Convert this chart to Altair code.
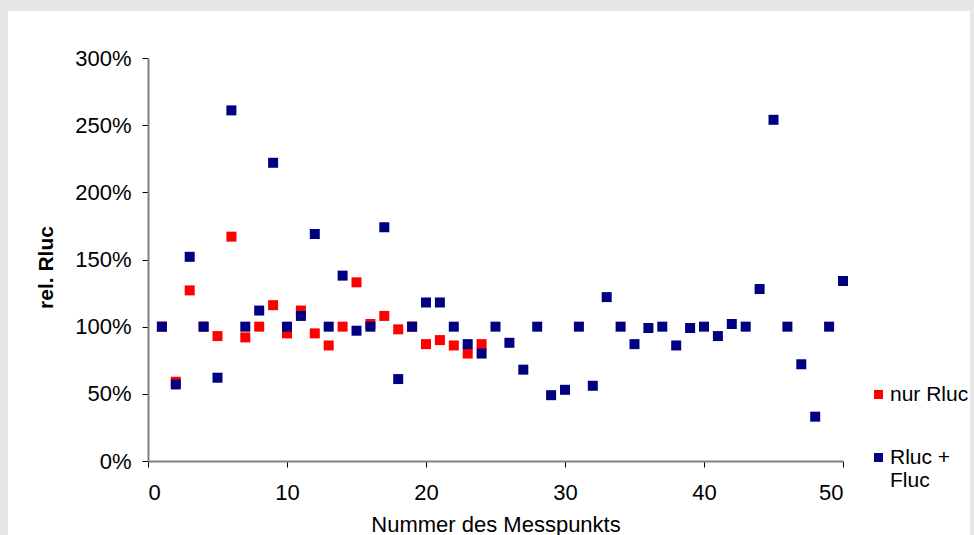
import altair as alt
import pandas as pd

# Data
x_nur = list(range(1, 25))
y_nur = [100, 59, 127, 100, 93, 167, 92, 100, 116, 95, 112, 95,
         86, 100, 133, 102, 108, 98, 100, 87, 90, 86, 80, 87]

x_both = list(range(1, 51))
y_both = [100, 57, 152, 100, 62, 261, 100, 112, 222, 100,
          108, 169, 100, 138, 97, 100, 174, 61, 100, 118,
          118, 100, 87, 80, 100, 88, 68, 100, 49, 53,
          100, 56, 122, 100, 87, 99, 100, 86, 99, 100,
          93, 102, 100, 128, 254, 100, 72, 33, 100, 134]

series_names = ["nur Rluc", "Rluc + Fluc"]
series_colors = ["#FF0000", "#000080"]
x_ticks = [0, 10, 20, 30, 40, 50]
y_ticks = [0, 0.5, 1.0, 1.5, 2.0, 2.5, 3.0]

rows = []
for xv, yv in zip(x_nur, y_nur):
    rows.append({"Messpunkt": xv, "rel": yv / 100.0, "Serie": series_names[0], "ord": 0})
for xv, yv in zip(x_both, y_both):
    rows.append({"Messpunkt": xv, "rel": yv / 100.0, "Serie": series_names[1], "ord": 1})
df = pd.DataFrame(rows)

FONT = "Liberation Sans"
W, H = 695, 403
LEFT, TOP = 148, 58

panel = alt.Chart(pd.DataFrame({"a": [0]})).mark_rect(color="white").encode(
    x=alt.value(8 - LEFT), x2=alt.value(970 - LEFT),
    y=alt.value(11 - TOP), y2=alt.value(535 - TOP + 5),
)

points = alt.Chart(df).mark_square(size=100, opacity=1, filled=True).encode(
    x=alt.X("Messpunkt:Q",
            scale=alt.Scale(domain=[0, 50], nice=False, zero=False),
            axis=alt.Axis(values=x_ticks, title="Nummer des Messpunkts",
                          titleFontWeight="normal", titleFontSize=22,
                          titleBaseline="alphabetic", titleY=70,
                          labelFontSize=22, labelPadding=15, tickSize=6,
                          grid=False, zindex=1)),
    y=alt.Y("rel:Q",
            scale=alt.Scale(domain=[0, 3], nice=False),
            axis=alt.Axis(values=y_ticks, format=".0%", title="rel. Rluc",
                          titleFontWeight="bold", titleFontSize=21,
                          titleAngle=-90, titleX=-102, titleY=209,
                          titleAlign="center", titleBaseline="middle",
                          labelFontSize=22, labelPadding=11, tickSize=6,
                          grid=False, zindex=1)),
    color=alt.Color("Serie:N",
                    scale=alt.Scale(domain=series_names, range=series_colors),
                    legend=alt.Legend(title=None, orient="none",
                                      legendX=720, legendY=326,
                                      symbolType="square", symbolSize=81,
                                      symbolStrokeWidth=0,
                                      labelFontSize=21, labelOffset=1,
                                      labelLimit=300, rowPadding=41,
                                      labelBaseline="middle",
                                      labelExpr="datum.label == 'Rluc + Fluc' ? ['Rluc +', 'Fluc'] : datum.label")),
    order=alt.Order("ord:Q"),
)

chart = alt.layer(panel, points).properties(
    width=W, height=H,
    autosize=alt.AutoSizeParams(type="none"),
    padding={"left": LEFT, "top": TOP, "right": 974 - LEFT - W, "bottom": 535 - TOP - H},
    background="#E6E6E6",
).configure_view(stroke=None).configure_axis(
    labelFont=FONT, titleFont=FONT, labelColor="black", titleColor="black",
    domainColor="#808080", domainWidth=2, tickColor="black", tickWidth=1,
).configure_legend(labelFont=FONT, labelColor="black")

chart.save("out.html", embed_options={"renderer": "svg", "actions": False})
